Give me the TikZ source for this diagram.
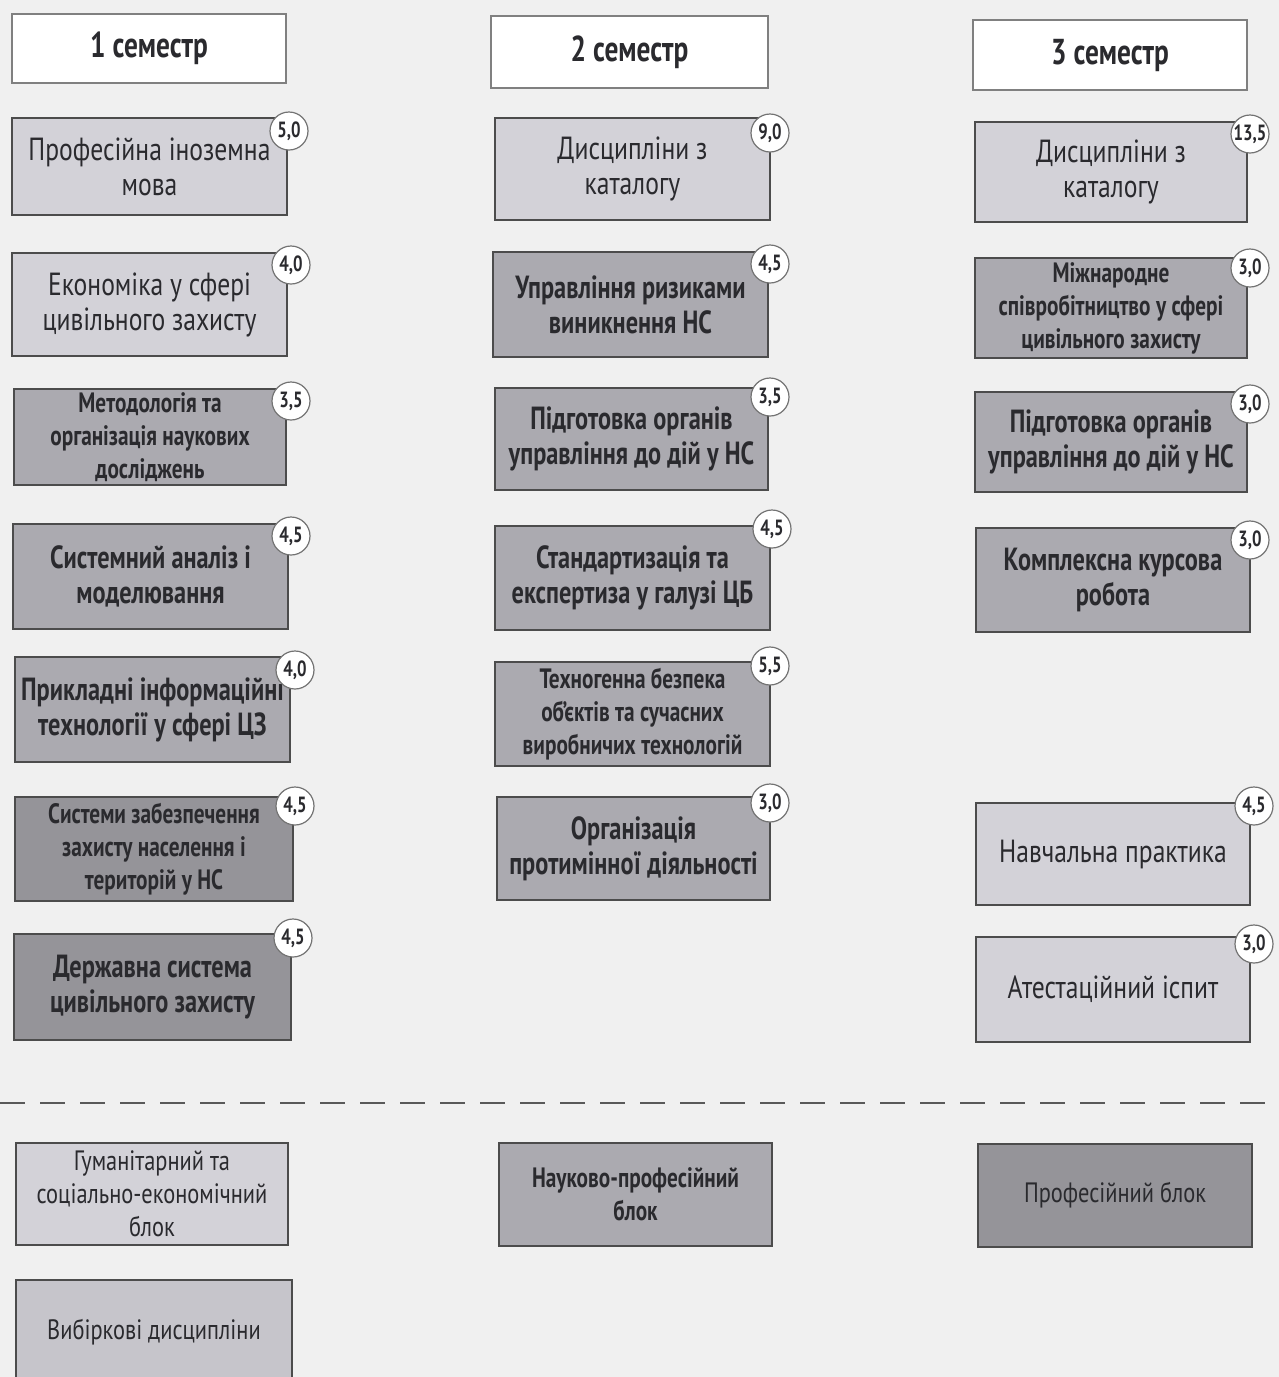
\documentclass[tikz,border=0pt]{standalone}
\usepackage{fontspec}
\setmainfont{PT Sans}[FakeStretch=0.8, BoldFeatures={FakeStretch=0.76}]
\definecolor{bg}{HTML}{F0F0F0}
\definecolor{lt}{HTML}{D3D2D8}
\definecolor{md}{HTML}{ABAAB0}
\definecolor{dk}{HTML}{959499}
\definecolor{vb}{HTML}{C6C5CB}
\definecolor{ink}{HTML}{2A2A2E}
\tikzset{
  x=0.5pt, y=-0.5pt,
  box/.style={draw=black!70, line width=0.8pt, inner sep=0pt, align=center, text=ink,
    font=\fontsize{16}{17.5}\selectfont},
  bbox/.style={box, font=\fontsize{16}{17.5}\selectfont\bfseries},
  bsmall/.style={box, font=\fontsize{14}{16.5}\selectfont\bfseries},
  rsmall/.style={box, font=\fontsize{14}{16.5}\selectfont},
  hdr/.style={box, draw=black!50, fill=white, font=\fontsize{18}{20}\selectfont\bfseries},
  cred/.style={circle, draw=black!55, fill=white, line width=0.6pt, minimum size=19pt,
    inner sep=0pt, text=ink, font=\fontsize{11}{12}\selectfont\bfseries},
  dashline/.style={draw=black!65, line width=1pt, dash pattern=on 12.5pt off 7.5pt}
}
\newcommand\mybox[7]{\node[#6, minimum width={(#4-#2)*0.5pt}, minimum height={(#5-#3)*0.5pt}]
  (#1) at ({(#2+#4)/2},{(#3+#5)/2}) {#7};}
\newcommand\credit[4]{\node[cred] (#1) at (#2,#3) {#4};}
\begin{document}
\begin{tikzpicture}
\fill[bg] (0,0) rectangle (1279,1377);
\useasboundingbox (0,0) rectangle (1279,1377);
% column 1
\mybox{h1}{12}{14}{286}{83}{hdr}{1 семестр}
\mybox{a1}{12}{118}{287}{215}{box,fill=lt}{Професійна іноземна\\мова}
\credit{a1c}{289}{131}{5,0}
\mybox{a2}{12}{253}{287}{356}{box,fill=lt}{Економіка у сфері\\цивільного захисту}
\credit{a2c}{291}{265}{4,0}
\mybox{a3}{14}{389}{286}{485}{bsmall,fill=md}{Методологія та\\організація наукових\\досліджень}
\credit{a3c}{291}{401}{3,5}
\mybox{a4}{13}{524}{288}{629}{bbox,fill=md}{Системний аналіз і\\моделювання}
\credit{a4c}{291}{536}{4,5}
\mybox{a5}{15}{657}{290}{762}{bbox,fill=md}{Прикладні інформаційні\\технології у сфері ЦЗ}
\credit{a5c}{295}{670}{4,0}
\mybox{a6}{15}{797}{293}{901}{bsmall,fill=dk}{Системи забезпечення\\захисту населення і\\територій у НС}
\credit{a6c}{295}{806}{4,5}
\mybox{a7}{14}{934}{291}{1040}{bbox,fill=dk}{Державна система\\цивільного захисту}
\credit{a7c}{293}{938}{4,5}
% column 2
\mybox{h2}{491}{16}{768}{88}{hdr}{2 семестр}
\mybox{b1}{495}{118}{770}{220}{box,fill=lt}{Дисципліни з\\каталогу}
\credit{b1c}{770}{133}{9,0}
\mybox{b2}{493}{252}{768}{357}{bbox,fill=md}{Управління ризиками\\виникнення НС}
\credit{b2c}{770}{264}{4,5}
\mybox{b3}{495}{388}{768}{490}{bbox,fill=md}{Підготовка органів\\управління до дій у НС}
\credit{b3c}{770}{397}{3,5}
\mybox{b4}{495}{526}{770}{630}{bbox,fill=md}{Стандартизація та\\експертиза у галузі ЦБ}
\credit{b4c}{772}{529}{4,5}
\mybox{b5}{495}{662}{770}{766}{bsmall,fill=md}{Техногенна безпека\\об'єктів та сучасних\\виробничих технологій}
\credit{b5c}{770}{666}{5,5}
\mybox{b6}{497}{797}{770}{900}{bbox,fill=md}{Організація\\протимінної діяльності}
\credit{b6c}{770}{803}{3,0}
% column 3
\mybox{h3}{973}{20}{1247}{90}{hdr}{3 семестр}
\mybox{c1}{975}{122}{1247}{222}{box,fill=lt}{Дисципліни з\\каталогу}
\credit{c1c}{1250}{134}{13,5}
\mybox{c2}{975}{258}{1247}{358}{bsmall,fill=md}{Міжнародне\\співробітництво у сфері\\цивільного захисту}
\credit{c2c}{1250}{268}{3,0}
\mybox{c3}{975}{392}{1247}{492}{bbox,fill=md}{Підготовка органів\\управління до дій у НС}
\credit{c3c}{1250}{404}{3,0}
\mybox{c4}{976}{528}{1250}{632}{bbox,fill=md}{Комплексна курсова\\робота}
\credit{c4c}{1250}{540}{3,0}
\mybox{c5}{976}{803}{1250}{905}{box,fill=lt}{Навчальна практика}
\credit{c5c}{1254}{806}{4,5}
\mybox{c6}{976}{937}{1250}{1042}{box,fill=lt}{Атестаційний іспит}
\credit{c6c}{1254}{944}{3,0}
% separator
\coordinate (dl1) at (0,1103);
\coordinate (dl2) at (1279,1103);
\draw[dashline] (dl1) -- (dl2);
% legend
\mybox{d1}{16}{1143}{288}{1245}{rsmall,fill=lt}{Гуманітарний та\\соціально-економічний\\блок}
\mybox{d2}{16}{1280}{292}{1384}{rsmall,fill=vb}{Вибіркові дисципліни}
\mybox{d3}{499}{1143}{772}{1246}{bsmall,fill=md}{Науково-професійний\\блок}
\mybox{d4}{978}{1144}{1252}{1247}{rsmall,fill=dk}{Професійний блок}
\end{tikzpicture}
\end{document}
